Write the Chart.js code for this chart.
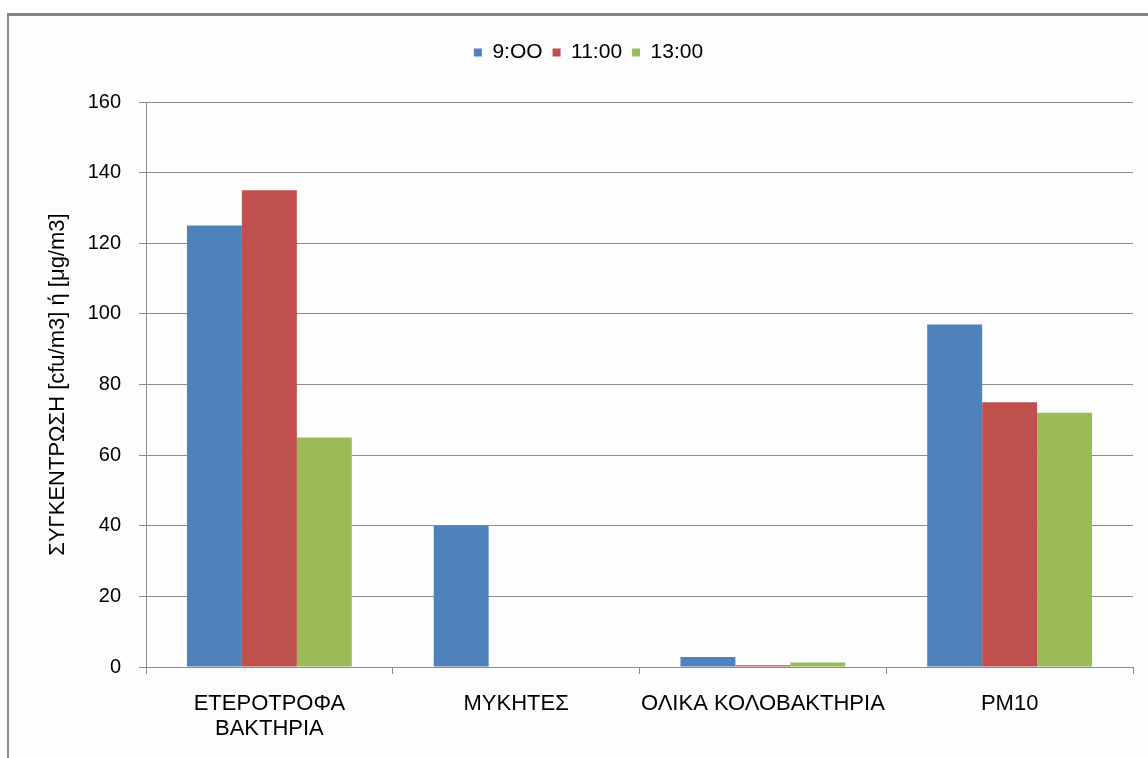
<!DOCTYPE html>
<html>
<head>
<meta charset="utf-8">
<script src="https://cdn.jsdelivr.net/npm/chart.js@4.4.1/dist/chart.umd.min.js"></script>
<style>
  html, body { margin: 0; padding: 0; background: #ffffff; }
  #wrap { position: relative; width: 1148px; height: 758px; overflow: hidden; background: #ffffff; }
  #frame { position: absolute; left: 7px; top: 13px; width: 1200px; height: 800px;
           border-top: 3px solid #858585; border-left: 2px solid #8a8a8a; background: #fdfdfd; }
  #chart { position: absolute; left: 0; top: 0; }
</style>
</head>
<body>
<div id="wrap">
  <div id="frame"></div>
  <canvas id="chart" width="1148" height="758"></canvas>
</div>
<script>
// Categories (multi-line labels as arrays)
const categories = [
  ['ΕΤΕΡΟΤΡΟΦΑ', 'ΒΑΚΤΗΡΙΑ'],
  'ΜΥΚΗΤΕΣ',
  'ΟΛΙΚΑ ΚΟΛΟΒΑΚΤΗΡΙΑ',
  'PM10'
];
const seriesNames = ['9:OO', '11:00', '13:00'];
const values0900 = [125, 40, 2.8, 97];
const values1100 = [135, 0, 0.5, 75];
const values1300 = [65, 0, 1.3, 72];
const yTicks = [0, 20, 40, 60, 80, 100, 120, 140, 160];
const yTitle = 'ΣΥΓΚΕΝΤΡΩΣΗ [cfu/m3] ή [μg/m3]';

const colors = ['#4F81BD', '#C0504D', '#9BBB59'];
const allValues = [values0900, values1100, values1300];

const FONT = "'Liberation Sans', Arial, sans-serif";

// Leaves extra room between the legend row and the plot area,
// and nudges the legend row so it sits over the middle of the plot
const legendSpacer = {
  id: 'legendSpacer',
  beforeLayout(chart) {
    const lg = chart.legend;
    if (lg && !lg._spaced) {
      const fit = lg.fit;
      lg.fit = function () { fit.call(this); this.height += 29; };
      lg._spaced = true;
    }
  },
  afterLayout(chart) {
    const lg = chart.legend;
    if (lg) {
      lg.left += 22;
      lg.right += 22;
    }
  }
};

new Chart(document.getElementById('chart'), {
  type: 'bar',
  data: {
    labels: categories,
    datasets: seriesNames.map((name, i) => ({
      label: name,
      data: allValues[i],
      backgroundColor: colors[i],
      borderWidth: 0,
      categoryPercentage: 0.668,
      barPercentage: 1.0
    }))
  },
  options: {
    responsive: false,
    animation: false,
    devicePixelRatio: 1,
    layout: { padding: { top: 32, right: 15, left: 0, bottom: 0 } },
    plugins: {
      tooltip: { enabled: false },
      legend: {
        position: 'top',
        align: 'center',
        labels: {
          boxWidth: 8,
          boxHeight: 8,
          padding: 10,
          color: '#000000',
          font: { family: FONT, size: 21 }
        }
      }
    },
    scales: {
      x: {
        offset: true,
        grid: {
          display: true,
          offset: true,
          drawOnChartArea: false,
          drawTicks: true,
          tickLength: 7,
          color: '#8c8c8c'
        },
        border: { display: true, color: '#8c8c8c', width: 1 },
        ticks: {
          color: '#000000',
          padding: 17,
          maxRotation: 0,
          autoSkip: false,
          font: { family: FONT, size: 22, lineHeight: 1.15 }
        },
        afterFit: (scale) => { scale.height = 91; }
      },
      y: {
        min: 0,
        max: 160,
        afterBuildTicks: (scale) => { scale.ticks = yTicks.map(v => ({ value: v })); },
        grid: {
          color: '#8c8c8c',
          drawTicks: true,
          tickLength: 7,
          lineWidth: 1
        },
        border: { display: true, color: '#8c8c8c', width: 1 },
        ticks: {
          color: '#000000',
          padding: 18,
          font: { family: FONT, size: 20 }
        },
        title: {
          display: true,
          text: yTitle,
          color: '#000000',
          padding: { top: 45, bottom: 0 },
          font: { family: FONT, size: 22 }
        },
        afterFit: (scale) => { scale.width = 146; }
      }
    }
  },
  plugins: [legendSpacer]
});
</script>
</body>
</html>
